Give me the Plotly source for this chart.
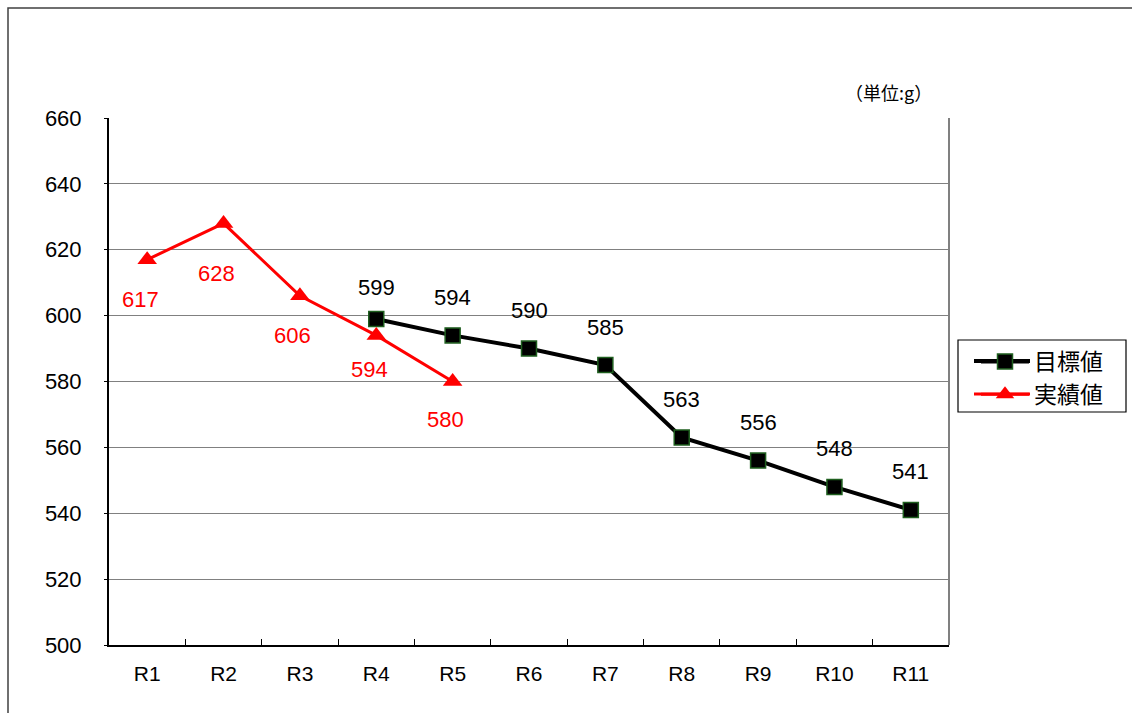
import plotly.graph_objects as go

# Fiscal-year categories and series values (grams)
years = ["R1", "R2", "R3", "R4", "R5", "R6", "R7", "R8", "R9", "R10", "R11"]
target_years = ["R4", "R5", "R6", "R7", "R8", "R9", "R10", "R11"]
target_values = [599, 594, 590, 585, 563, 556, 548, 541]
actual_years = ["R1", "R2", "R3", "R4", "R5"]
actual_values = [617, 628, 606, 594, 580]
y_ticks = [500, 520, 540, 560, 580, 600, 620, 640, 660]

# vertical offsets (px) of the value labels from their markers
target_label_dy = [31, 38, 38, 38, 38, 38, 38, 38]
actual_label_dy = [-40, -50, -40, -34, -38]

NUM_FONT = "Liberation Sans, Arial, sans-serif"
JP_FONT = "Noto Sans CJK JP, sans-serif"

# Plot-area geometry in pixels
L, R, T, B = 109, 183, 118, 68
W, H = 1132, 713
pw, ph = W - L - R, H - T - B


def px_x(x):
    return (x - L) / pw


def px_y(y):
    return (H - B - y) / ph


fig = go.Figure()

fig.add_trace(go.Scatter(
    x=target_years, y=target_values, name="目標値",
    mode="lines+markers",
    line=dict(color="black", width=4),
    marker=dict(symbol="square", size=15, color="black",
                line=dict(color="#1f5f1f", width=1.5)),
))
fig.add_trace(go.Scatter(
    x=actual_years, y=actual_values, name="実績値",
    mode="lines+markers",
    line=dict(color="#ff0000", width=3),
    marker=dict(symbol="triangle-up", size=17, color="#ff0000"),
))

annotations = []
for x, v, dy in zip(target_years, target_values, target_label_dy):
    annotations.append(dict(x=x, y=v, text=str(v), showarrow=False,
                            yshift=dy, font=dict(family=NUM_FONT, size=22, color="black")))
for x, v, dy in zip(actual_years, actual_values, actual_label_dy):
    annotations.append(dict(x=x, y=v, text=str(v), showarrow=False,
                            yshift=dy, xshift=-7, font=dict(family=NUM_FONT, size=22, color="#ff0000")))
annotations.append(dict(xref="paper", yref="paper", x=px_x(934), y=px_y(92),
                        xanchor="right", yanchor="middle", text="（単位:g）",
                        showarrow=False, font=dict(family=JP_FONT, size=18, color="black")))

shapes = [
    # outer chart frame
    dict(type="rect", xref="paper", yref="paper",
         x0=px_x(8), x1=px_x(W + 20), y0=px_y(H + 20), y1=px_y(8),
         line=dict(color="#404040", width=1.5), layer="below"),
    # right border of plot area
    dict(type="line", xref="paper", yref="paper", x0=1, x1=1, y0=0, y1=1,
         line=dict(color="#808080", width=2)),
    # legend box
    dict(type="rect", xref="paper", yref="paper",
         x0=px_x(958), x1=px_x(1126), y0=px_y(412), y1=px_y(340),
         line=dict(color="black", width=1.2), fillcolor="white", layer="above"),
    # longer legend sample lines
    dict(type="line", xref="paper", yref="paper",
         x0=px_x(974), x1=px_x(1030), y0=px_y(361), y1=px_y(361),
         line=dict(color="black", width=4), layer="above"),
    dict(type="line", xref="paper", yref="paper",
         x0=px_x(974), x1=px_x(1030), y0=px_y(394), y1=px_y(394),
         line=dict(color="#ff0000", width=3), layer="above"),
]

fig.update_layout(
    width=W, height=H,
    margin=dict(l=L, r=R, t=T, b=B),
    paper_bgcolor="white", plot_bgcolor="white",
    showlegend=True,
    legend=dict(x=px_x(976), y=px_y(340), xanchor="left", yanchor="top",
                bgcolor="rgba(0,0,0,0)", borderwidth=0,
                font=dict(family=JP_FONT, size=23, color="black"),
                tracegroupgap=0, itemwidth=48),
    annotations=annotations,
    shapes=shapes,
    xaxis=dict(
        type="category", categoryorder="array", categoryarray=years,
        range=[-0.5, len(years) - 0.5],
        showline=True, linecolor="black", linewidth=2,
        ticks="inside", tickson="boundaries", ticklen=6, tickcolor="black",
        showgrid=False, zeroline=False,
        tickfont=dict(family=NUM_FONT, size=21, color="black"),
        ticklabelstandoff=9,
    ),
    yaxis=dict(
        range=[500, 660], tickvals=y_ticks,
        showline=True, linecolor="black", linewidth=2,
        ticks="outside", ticklen=3, tickcolor="black",
        showgrid=True, gridcolor="#808080", gridwidth=1,
        zeroline=False,
        tickfont=dict(family=NUM_FONT, size=22, color="black"),
        ticklabelstandoff=18,
    ),
)

fig.write_html("out.html")
